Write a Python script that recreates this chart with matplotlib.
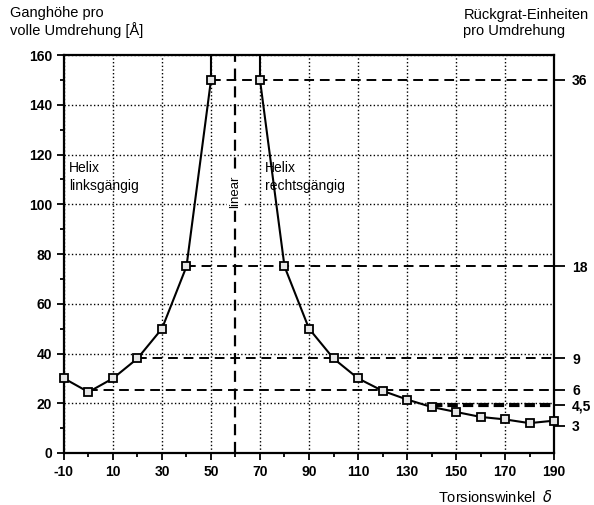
import matplotlib.pyplot as plt
import numpy as np

plt.rcParams['font.family'] = ['Liberation Sans', 'DejaVu Sans']
plt.rcParams['axes.unicode_minus'] = False

# Torsion angle vs. pitch per full turn
winkel = [-10, 0, 10, 20, 30, 40, 50]
hoehe = [30, 24.5, 30, 38, 50, 75, 150]
winkel_r = [70, 80, 90, 100, 110, 120, 130, 140, 150, 160, 170, 180, 190]
hoehe_r = [150, 75, 50, 38, 30, 25, 21.5, 18.5, 16.5, 14.5, 13.5, 12, 13]

# reference levels: residues per turn
ref_start = [50, 40, 20, 0]
ref_hoehe = [150, 75, 38, 25.5]
einh_pos = [150, 75, 38, 25.5, 19.3, 11]
einh_lab = ['36', '18', '9', '6', '4,5', '3']

fig = plt.figure(figsize=(5.94, 5.05), dpi=100)
ax = fig.add_axes([0.1077, 0.103, 0.825, 0.788])

ax.set_xlim(-10, 190)
ax.set_ylim(0, 160)
ax.set_xticks(np.arange(-10, 191, 20))
ax.set_xticks(np.arange(0, 191, 20), minor=True)
ax.set_yticks(np.arange(0, 161, 20))
ax.set_yticks(np.arange(10, 161, 20), minor=True)
ax.grid(True, which='major', ls=':', color='black', lw=1.0)
ax.tick_params(which='major', direction='out', length=5, width=1.3, labelsize=10)
ax.tick_params(which='minor', direction='out', length=3, width=1.3)
for lab in ax.get_xticklabels() + ax.get_yticklabels():
    lab.set_fontweight('bold')
for s in ax.spines.values():
    s.set_linewidth(1.6)

# reference dashed levels
for x0, y0 in zip(ref_start, ref_hoehe):
    ax.plot([x0, 190], [y0, y0], ls=(0, (5, 3)), color='black', lw=1.4, zorder=2)
ax.plot([140, 190], [19.3, 19.3], ls=(0, (2.5, 1.2)), color='black', lw=3, zorder=2)

# vertical "linear" line
ax.axvline(60, ls=(0, (5, 3)), color='black', lw=1.6, zorder=2)
ax.text(60, 105, 'linear', rotation=90, ha='center', va='center', fontsize=9.5,
        bbox=dict(facecolor='white', edgecolor='none', pad=1.5), zorder=3)

# curve
ax.plot(winkel + [50], hoehe + [170], color='black', lw=1.5, zorder=4)
ax.plot([70] + winkel_r, [170] + hoehe_r, color='black', lw=1.5, zorder=4)
ax.plot(winkel, hoehe, ls='none', marker='s', ms=5.5, mfc='#e6e6e6', mec='black', mew=1.3,
        zorder=5, clip_on=False)
ax.plot(winkel_r, hoehe_r, ls='none', marker='s', ms=5.5, mfc='#e6e6e6', mec='black', mew=1.3,
        zorder=5, clip_on=False)

ax.text(-8, 111, 'Helix\nlinksgängig', fontsize=10, va='center', ha='left', linespacing=1.3)
ax.text(72, 111, 'Helix\nrechtsgängig', fontsize=10, va='center', ha='left', linespacing=1.3)

# right axis
ax2 = ax.twinx()
ax2.set_ylim(0, 160)
ax2.set_yticks(einh_pos)
ax2.set_yticklabels(einh_lab, fontweight='bold', fontsize=10)
ax2.tick_params(direction='out', length=8, width=1.3, pad=5)
for s in ax2.spines.values():
    s.set_visible(False)

fig.text(0.017, 0.925, 'Ganghöhe pro\nvolle Umdrehung [Å]', fontsize=10.5, ha='left',
         va='bottom', linespacing=1.15)
fig.text(0.78, 0.925, 'Rückgrat-Einheiten\npro Umdrehung', fontsize=10.5, ha='left',
         va='bottom', linespacing=1.15)
fig.text(0.737, 0.016, 'Torsionswinkel  $\\delta$', fontsize=10.5, ha='left', va='center')

fig.savefig('out.png', dpi=100)
